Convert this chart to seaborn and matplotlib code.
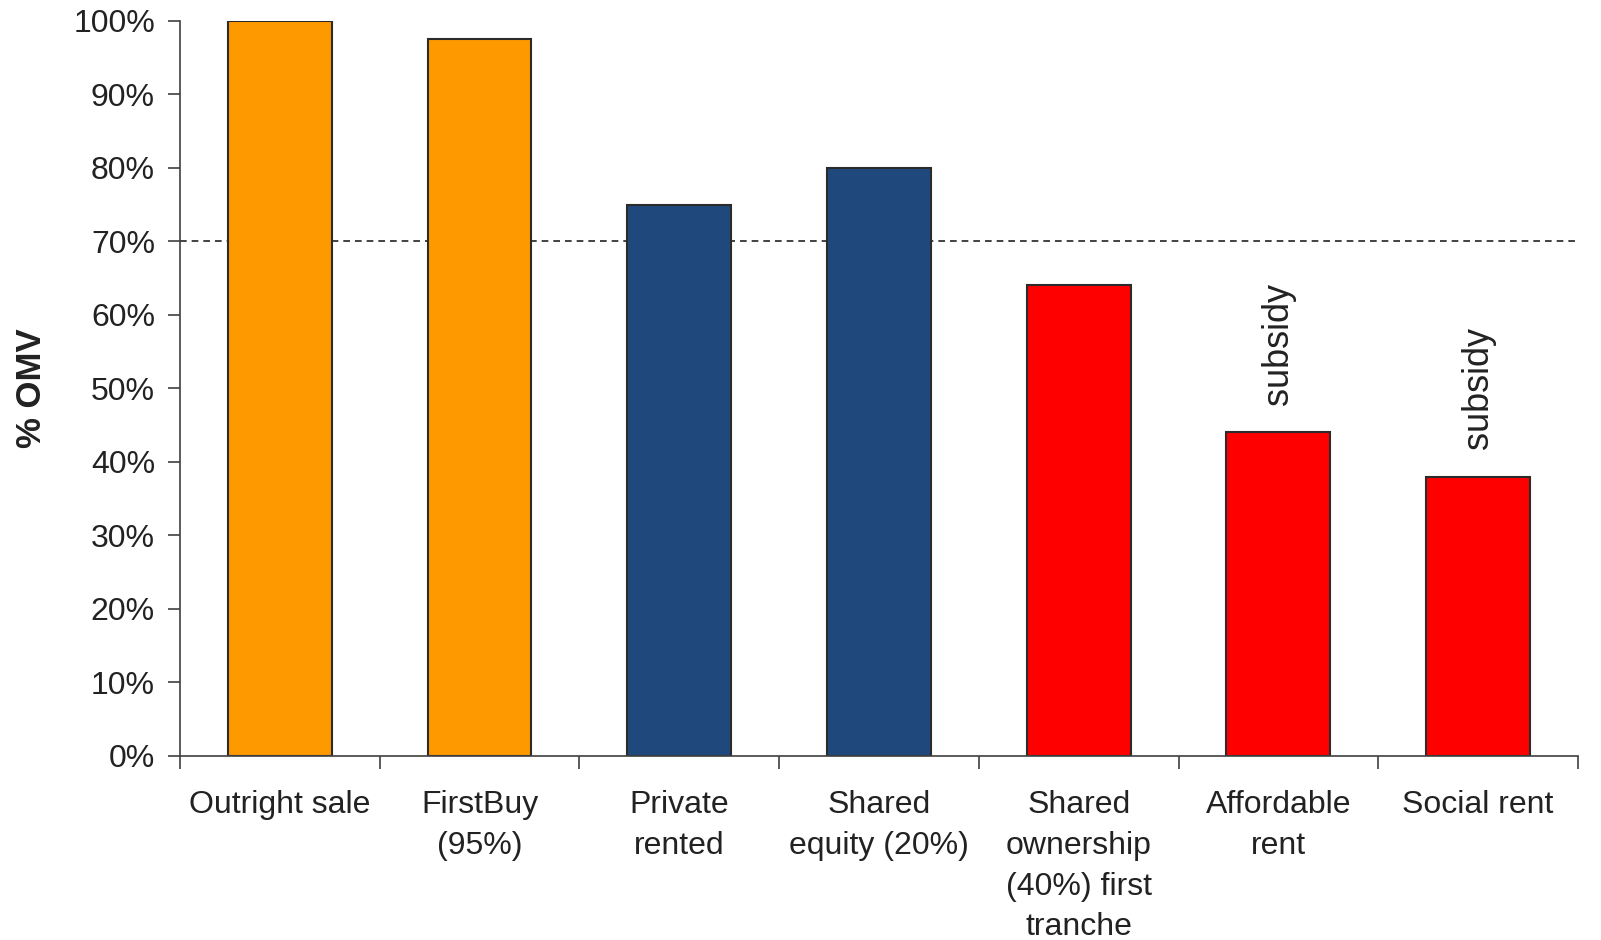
import numpy as np
import matplotlib
matplotlib.use("Agg")
import matplotlib.pyplot as plt
from matplotlib.ticker import FixedLocator, FuncFormatter
import pandas as pd
import seaborn as sns

# data (% of open market value)
categories = ["Outright sale", "FirstBuy\n(95%)", "Private\nrented", "Shared\nequity (20%)",
              "Shared\nownership\n(40%) first\ntranche", "Affordable\nrent", "Social rent"]
values = [100, 97.5, 75, 80, 64, 44, 38]
bar_colors = ["#FF9900", "#FF9900", "#1F497D", "#1F497D", "#FF0000", "#FF0000", "#FF0000"]
threshold = 70
subsidy_bars = ["Affordable\nrent", "Social rent"]

df = pd.DataFrame({"cat": categories, "val": values})

sns.set_style("ticks")
plt.rcParams['font.family'] = ['Liberation Sans', 'DejaVu Sans']
plt.rcParams['font.size'] = 23

fig = plt.figure(figsize=(16.01, 9.40), dpi=100)
ax = fig.add_axes([0.1124, 0.196, 0.8732, 0.7817])

sns.barplot(data=df, x="cat", y="val", hue="cat", palette=dict(zip(categories, bar_colors)),
            legend=False, saturation=1, width=0.52, edgecolor="#2b2b2b", linewidth=1.5, ax=ax)

ax.axhline(threshold, color="#222222", linestyle=(0, (4, 3)), linewidth=1.2, zorder=0.5)

for c in subsidy_bars:
    i = categories.index(c)
    ax.text(i, values[i] + 3.8, "subsidy", rotation=90, ha="center", va="bottom",
            color="#222222", fontsize=26)

ax.set_xlim(-0.5, len(categories) - 0.5)
ax.set_ylim(0, 100)
ax.yaxis.set_major_locator(FixedLocator(np.arange(0, 101, 10)))
ax.yaxis.set_major_formatter(FuncFormatter(lambda v, p: f"{int(v)}%"))
ax.xaxis.set_minor_locator(FixedLocator(np.arange(-0.5, len(categories), 1)))
ax.tick_params(axis="x", which="major", length=0, pad=25, labelsize=23, colors="#222222")
ax.tick_params(axis="x", which="minor", length=9, width=1.2, color="#404040", direction="out")
ax.tick_params(axis="y", length=9, width=1.2, color="#404040", direction="out",
               labelsize=23, labelcolor="#222222", pad=9)
for lab in ax.get_xticklabels():
    lab.set_linespacing(1.46)

ax.set_xlabel("")
ax.set_ylabel("% OMV", fontweight="bold", fontsize=25, color="#222222", labelpad=18)

for s in ["top", "right"]:
    ax.spines[s].set_visible(False)
for s in ["left", "bottom"]:
    ax.spines[s].set_color("#404040")
    ax.spines[s].set_linewidth(1.2)

fig.savefig("out.png", dpi=100)
